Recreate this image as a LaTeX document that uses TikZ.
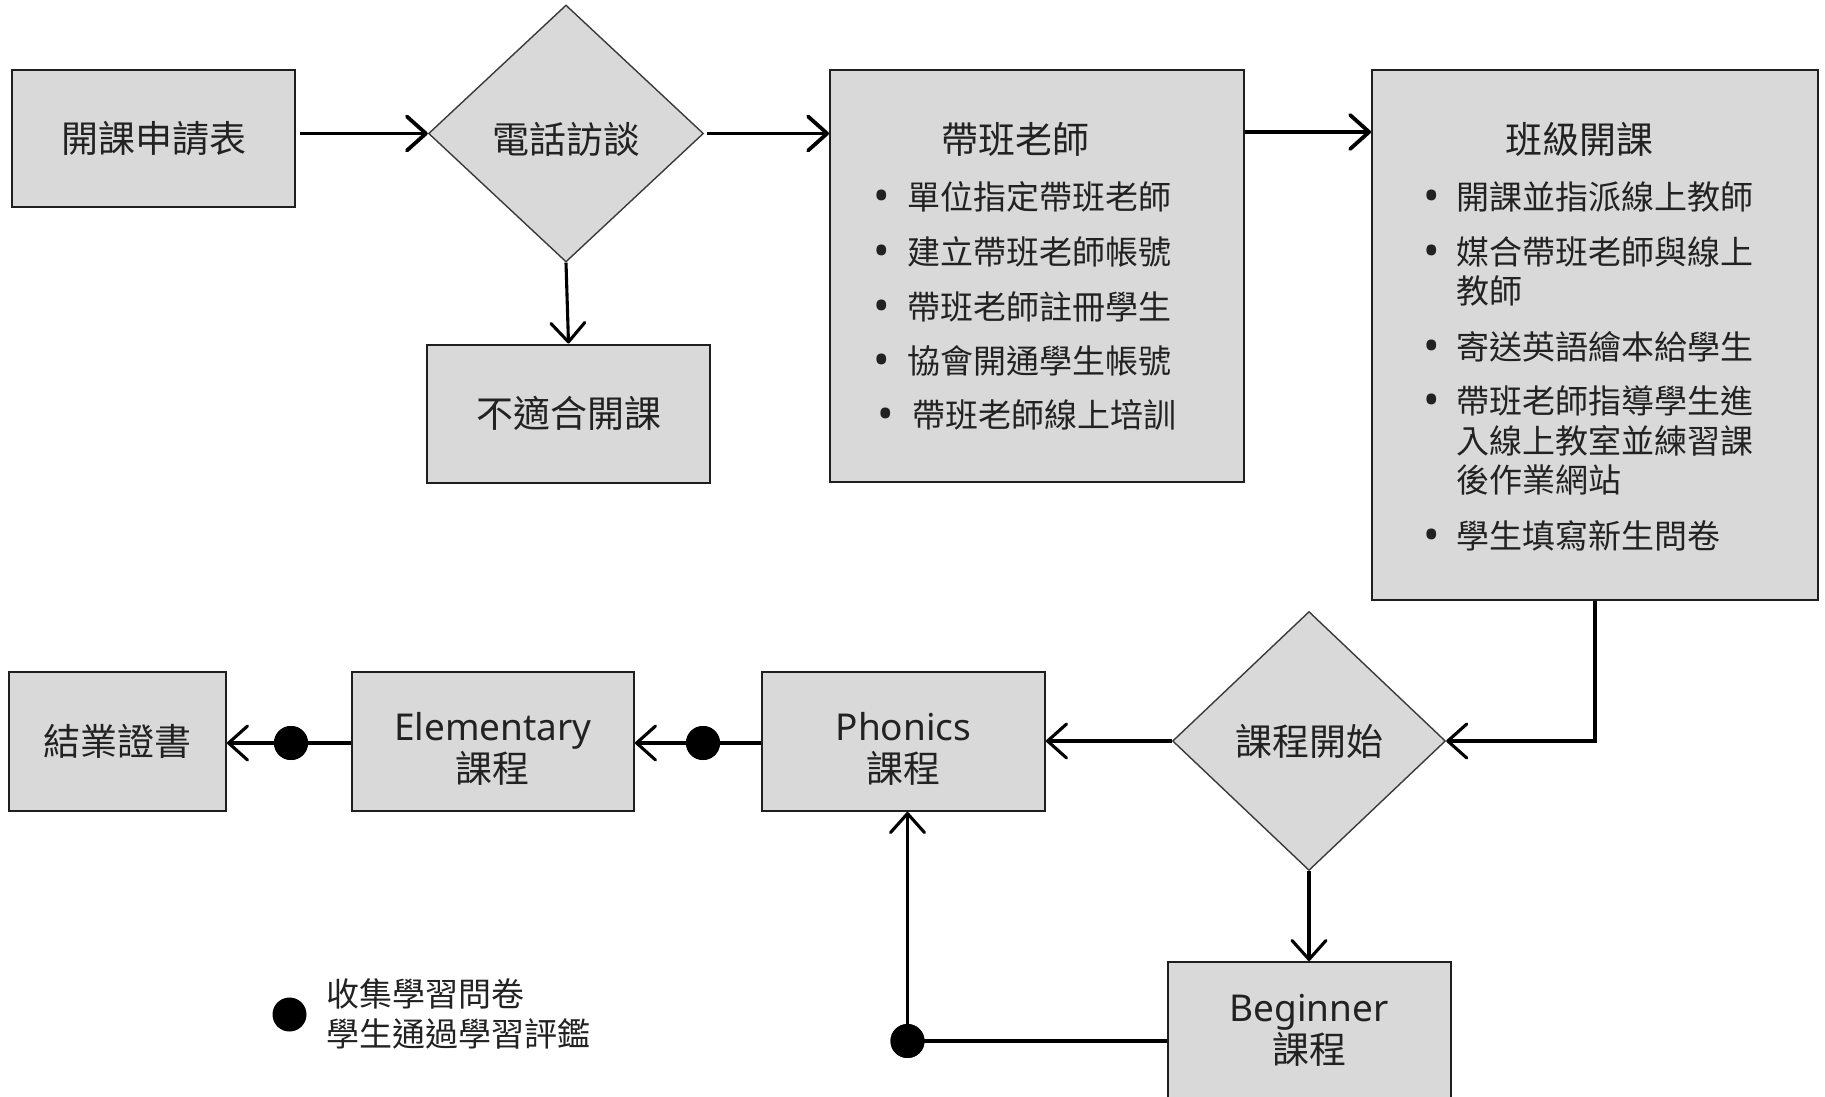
\documentclass[tikz,border=0pt]{standalone}
\usepackage{fontspec}
\setmainfont{Noto Sans CJK TC}
\newfontfamily\latfont{Noto Sans}
\usetikzlibrary{shapes.geometric,arrows.meta,calc}
\definecolor{boxfill}{HTML}{D9D9D9}
\definecolor{txt}{HTML}{222222}
\definecolor{edge}{HTML}{1F1F1F}
\definecolor{diamedge}{HTML}{3A3A3A}
\newcommand\myBig{\fontsize{37pt}{42pt}\selectfont}
\newcommand\mySmall{\fontsize{33pt}{39.3pt}\selectfont}
\newcommand\bul{\makebox[0pt]{\raisebox{-2pt}{\latfont\fontsize{44pt}{44pt}\selectfont •}}}
\begin{document}
\begin{tikzpicture}[x=1pt,y=-1pt,
  box/.style={rectangle, draw=edge, line width=2pt, fill=boxfill, inner sep=0pt,
    align=center, text=txt, font=\myBig},
  diam/.style={diamond, aspect=1, draw=diamedge, line width=1.4pt, fill=boxfill,
    inner sep=0pt, text=txt, font=\myBig},
  titletext/.style={inner sep=0pt, text=txt, font=\myBig},
  itemtext/.style={anchor=base west, inner sep=0pt, text=txt, font=\mySmall, align=left},
  conn/.style={draw=black, line width=3.1pt},
  arr/.style={conn, -{Straight Barb[length=19pt,width=34pt,round]}},
  thick arr/.style={arr, line width=3.8pt},
  dot/.style={circle, fill=black, inner sep=0pt, minimum size=34pt}]
\useasboundingbox (0,0) rectangle (1825,1097);
\fill[white] (0,0) rectangle (1825,1097);

% top row
\node[box, minimum width=283pt, minimum height=137pt] (app) at (153.5,138.5) {開課申請表};
\node[diam, minimum width=275pt, minimum height=257pt] (d1) at (566,133.5) {\rule{0pt}{44pt}電話訪談};
\node[box, minimum width=283pt, minimum height=138pt] (unfit) at (568.5,413.5) {不適合開課};
\node[box, minimum width=414pt, minimum height=412pt] (tch) at (1037,276) {};
\node[box, minimum width=446pt, minimum height=530pt] (cls) at (1595,335) {};

% teacher box contents
\node[titletext] (tchT) at (1015,139) {帶班老師};
\node[itemtext] (tA1) at (882,209) {\bul\hspace{25pt}單位指定帶班老師};
\node[itemtext] (tA2) at (882,264) {\bul\hspace{25pt}建立帶班老師帳號};
\node[itemtext] (tA3) at (882,319) {\bul\hspace{25pt}帶班老師註冊學生};
\node[itemtext] (tA4) at (882,373) {\bul\hspace{25pt}協會開通學生帳號};
\node[itemtext] (tA5) at (886,427.5) {\bul\hspace{26pt}帶班老師線上培訓};

% class box contents (base anchor = baseline of the last line)
\node[titletext] (clsT) at (1579,139) {班級開課};
\node[itemtext] (tB1) at (1432,209) {\bul\hspace{24pt}開課並指派線上教師};
\node[itemtext] (tB2) at (1432,303.5) {\bul\hspace{24pt}媒合帶班老師與線上\\\hspace*{24pt}教師};
\node[itemtext] (tB4) at (1432,359) {\bul\hspace{24pt}寄送英語繪本給學生};
\node[itemtext] (tB5) at (1432,492.5) {\bul\hspace{24pt}帶班老師指導學生進\\\hspace*{24pt}入線上教室並練習課\\\hspace*{24pt}後作業網站};
\node[itemtext] (tB8) at (1432,548) {\bul\hspace{24pt}學生填寫新生問卷};

% bottom row
\node[diam, minimum width=273pt, minimum height=259pt] (d2) at (1309,741) {課程開始};
\node[box, minimum width=283pt, minimum height=137pt] (beg) at (1309,1030.5) {{\latfont Beginner}\\課程};
\node[box, minimum width=283pt, minimum height=139pt] (phon) at (903.5,741.5) {\rule{0pt}{42pt}{\latfont Phonics}\\課程};
\node[box, minimum width=282.4pt, minimum height=139pt] (elem) at (492.8,741.5) {\rule{0pt}{42pt}{\latfont Elementary}\\課程};
\node[box, minimum width=216.6pt, minimum height=139pt] (cert) at (117.7,741.5) {結業證書};

% dots
\node[dot] (dA) at (703,743) {};
\node[dot] (dC) at (291,743) {};
\node[dot] (dB) at (907.5,1041) {};

% connectors
\draw[thick arr, shorten <=4pt] (d1.west -| app.east) -- (d1.west);
\draw[thick arr, shorten <=3pt] (d1.east) -- (d1.east -| tch.west);
\draw[arr] (d1.south) -- (unfit.north);
\draw[thick arr] ($(tch.north east)+(0,63)$) coordinate (tc) -- (tc -| cls.west);
\draw[arr] (cls.south) |- (d2.east);
\draw[arr] (d2.west) -- (d2.west -| phon.east);
\draw[arr] (d2.south) -- (d2.south |- beg.north);
\draw[conn] (beg.west |- dB) -- (dB.center);
\draw[arr] (dB.center) -- (dB |- phon.south);
\draw[arr] (phon.west |- dA) -- (elem.east |- dA);
\draw[arr] (elem.west |- dC) -- (cert.east |- dC);

% redraw dots on top
\fill[black] (dA) circle[radius=17pt];
\fill[black] (dC) circle[radius=17pt];
\fill[black] (dB) circle[radius=17pt];

% legend
\node[dot] (dL) at (289.5,1014.5) {};
\node[anchor=west, align=left, inner sep=0pt, text=txt, font=\mySmall] (legend) at (326,1014) {收集學習問卷\\學生通過學習評鑑};
\end{tikzpicture}
\end{document}
